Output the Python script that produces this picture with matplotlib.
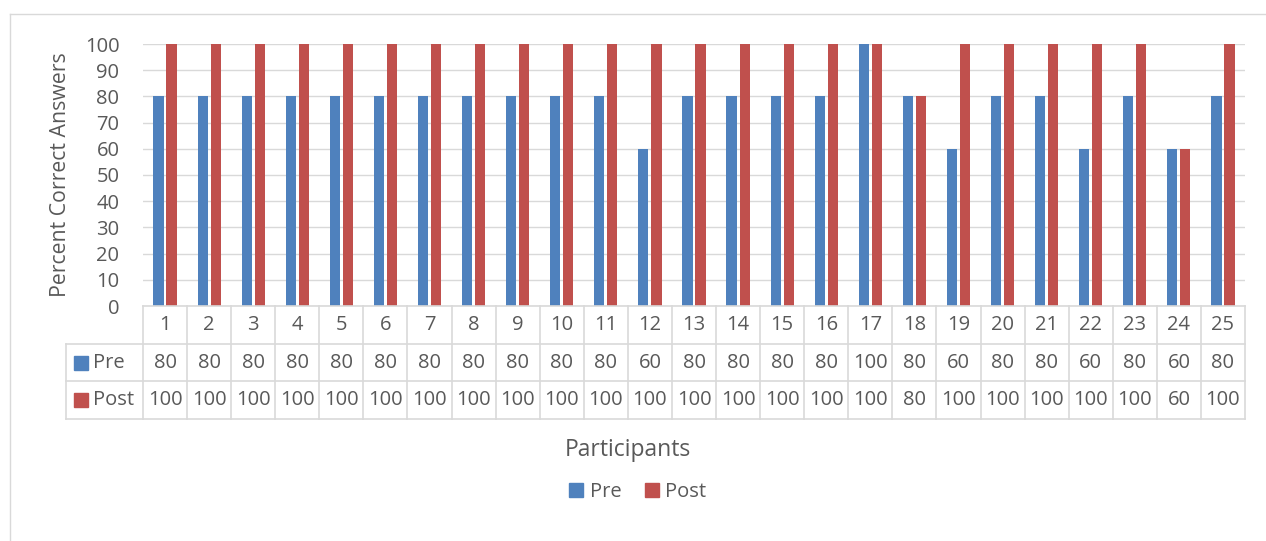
import matplotlib.pyplot as plt
from matplotlib.patches import Patch
import numpy as np

participants = [str(i) for i in range(1, 26)]
pre = [80, 80, 80, 80, 80, 80, 80, 80, 80, 80, 80, 60, 80, 80, 80, 80, 100, 80, 60, 80, 80, 60, 80, 60, 80]
post = [100, 100, 100, 100, 100, 100, 100, 100, 100, 100, 100, 100, 100, 100, 100, 100, 100, 80, 100, 100, 100, 100, 100, 60, 100]
yticks = [0, 10, 20, 30, 40, 50, 60, 70, 80, 90, 100]

blue = "#4F81BD"
red = "#C0504D"
grid = "#D9D9D9"
txt = "#595959"
fs = 14.5

plt.rcParams['font.family'] = ['Open Sans', 'DejaVu Sans']

W, H = 1266, 541
fig = plt.figure(figsize=(W / 100, H / 100), dpi=100)

# outer chart frame
fig.add_artist(plt.Line2D([10 / W, 10 / W], [0, 1 - 14 / H], color=grid, lw=1))
fig.add_artist(plt.Line2D([10 / W, 1], [1 - 14 / H, 1 - 14 / H], color=grid, lw=1))

# main plot area
px_l, px_r, px_t, px_b = 143, 1245, 44, 306
ax = fig.add_axes([px_l / W, 1 - px_b / H, (px_r - px_l) / W, (px_b - px_t) / H])
x = np.arange(len(participants))
ax.bar(x - 0.148, pre, width=0.23, color=blue, zorder=3)
ax.bar(x + 0.148, post, width=0.23, color=red, zorder=3)
ax.set_xlim(-0.5, len(participants) - 0.5)
ax.set_ylim(0, 100)
ax.set_yticks(yticks)
ax.yaxis.grid(True, color=grid, lw=1)
ax.set_axisbelow(True)
for s in ax.spines.values():
    s.set_visible(False)
ax.set_xticks([])
ax.tick_params(axis='y', length=0, pad=17, labelsize=fs, labelcolor=txt)
fig.text(61 / W, 1 - 175 / H, "Percent Correct Answers", rotation=90, ha='center', va='center',
         fontsize=15.3, color=txt)

# data table underneath
unit = (px_r - px_l) / len(participants)
tbl_l = 66
xl = -0.5 - (px_l - tbl_l) / unit
tax = fig.add_axes([tbl_l / W, 1 - 419 / H, (px_r - tbl_l) / W, (419 - px_b) / H])
tax.set_xlim(xl, len(participants) - 0.5)
tax.set_ylim(3, 0)
tax.axis('off')
lk = dict(color=grid, lw=1.2, clip_on=False)
tax.plot([-0.5, len(participants) - 0.5], [0, 0], **lk)
for yy in [1, 2, 3]:
    tax.plot([xl, len(participants) - 0.5], [yy, yy], **lk)
for k in range(len(participants) + 1):
    tax.plot([k - 0.5, k - 0.5], [0, 3], **lk)
tax.plot([xl, xl], [1, 3], **lk)

for i, lab in enumerate(participants):
    tax.text(i, 0.5, lab, ha='center', va='center', fontsize=fs, color=txt)
    tax.text(i, 1.5, str(pre[i]), ha='center', va='center', fontsize=fs, color=txt)
    tax.text(i, 2.5, str(post[i]), ha='center', va='center', fontsize=fs, color=txt)

sq_x = xl + 14.5 / unit
tax.plot([sq_x], [1.5], marker='s', ms=9.5, color=blue, clip_on=False)
tax.plot([sq_x], [2.5], marker='s', ms=9.5, color=red, clip_on=False)
tax.text(xl + 27 / unit, 1.5, "Pre", ha='left', va='center', fontsize=fs, color=txt)
tax.text(xl + 27 / unit, 2.5, "Post", ha='left', va='center', fontsize=fs, color=txt)

fig.text(628 / W, 1 - 450 / H, "Participants", ha='center', va='center', fontsize=16.5, color=txt)

handles = [Patch(color=blue, label="Pre"), Patch(color=red, label="Post")]
fig.legend(handles=handles, loc='center', bbox_to_anchor=(638 / W, 1 - 492 / H), ncol=2,
           frameon=False, fontsize=fs, handlelength=0.7, handleheight=0.7,
           handletextpad=0.3, columnspacing=1.2, labelcolor=txt)

fig.savefig("out.png", dpi=100, facecolor='white')
